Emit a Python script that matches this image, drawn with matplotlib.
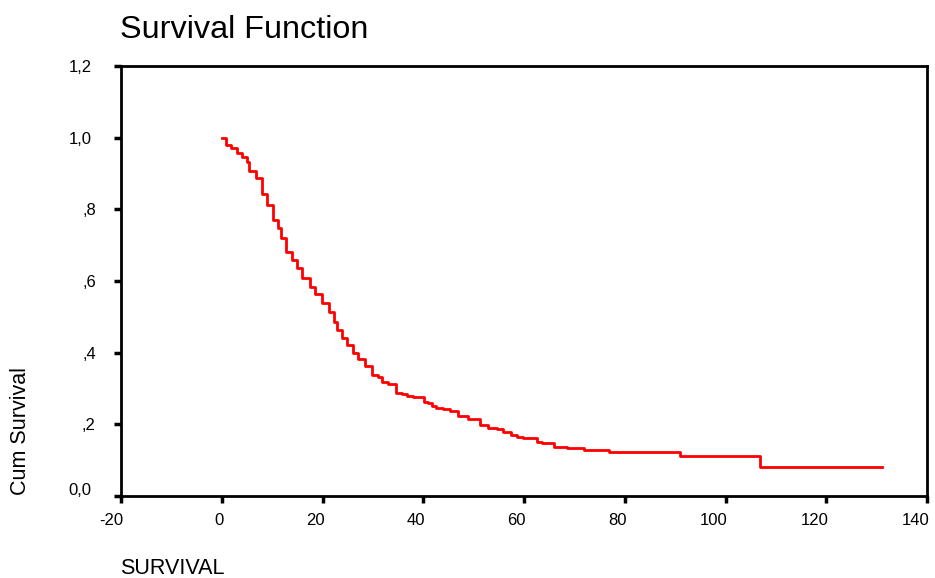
import matplotlib
matplotlib.use("Agg")
import matplotlib.pyplot as plt
from matplotlib.ticker import FixedLocator
from matplotlib.transforms import ScaledTranslation

plt.rcParams['font.family'] = ['Liberation Sans', 'DejaVu Sans']

# Kaplan-Meier step curve (time, cumulative survival after each drop)
times = [0, 0.9, 1.8, 3.0, 4.0, 5.0, 5.5, 6.7, 7.9, 9.0, 10.2, 11.2, 11.8, 12.7,
         13.9, 14.9, 16.0, 17.6, 18.6, 19.9, 21.2, 22.2, 22.8, 23.8, 24.8, 26.1,
         27.1, 28.4, 29.8, 31.1, 31.9, 33.1, 34.6, 35.7, 36.8, 38.0, 40.2, 41.0,
         41.8, 42.6, 44.0, 45.4, 46.8, 48.9, 51.2, 52.9, 54.7, 55.8, 57.4, 58.7,
         59.8, 62.6, 63.6, 65.9, 68.6, 71.9, 76.8, 90.9, 106.9, 131.1]
survival = [1.0, 0.980, 0.970, 0.956, 0.945, 0.933, 0.908, 0.887, 0.842, 0.812,
            0.770, 0.749, 0.719, 0.682, 0.659, 0.636, 0.607, 0.584, 0.564, 0.540,
            0.514, 0.486, 0.463, 0.440, 0.421, 0.398, 0.382, 0.362, 0.338, 0.331,
            0.319, 0.313, 0.288, 0.284, 0.279, 0.275, 0.263, 0.259, 0.252, 0.246,
            0.242, 0.237, 0.223, 0.215, 0.197, 0.191, 0.186, 0.179, 0.170, 0.164,
            0.161, 0.152, 0.147, 0.138, 0.135, 0.128, 0.124, 0.112, 0.080, 0.080]

x_ticks = [-20, 0, 20, 40, 60, 80, 100, 120, 140]
x_tick_labels = ['-20', '0', '20', '40', '60', '80', '100', '120', '140']
y_ticks = [0.0, 0.2, 0.4, 0.6, 0.8, 1.0, 1.2]
y_tick_labels = ['0,0', ',2', ',4', ',6', ',8', '1,0', '1,2']

fig = plt.figure(figsize=(9.35, 5.78), dpi=100)
ax = fig.add_axes([121/935, 1-496/578, (927-121)/935, (496-66)/578])

ax.plot(times, survival, drawstyle='steps-post', color='#ff0000', lw=2.0)

ax.set_xlim(-20, 140)
ax.set_ylim(0, 1.2)
ax.xaxis.set_major_locator(FixedLocator(x_ticks))
ax.set_xticklabels(x_tick_labels)
ax.yaxis.set_major_locator(FixedLocator(y_ticks))
ax.set_yticklabels(y_tick_labels)

for s in ax.spines.values():
    s.set_linewidth(2.0)
    s.set_color('black')
ax.tick_params(axis='both', direction='out', length=5, width=2.5, labelsize=12,
               colors='black')
ax.tick_params(axis='y', pad=16)
ax.tick_params(axis='x', pad=7)

# x labels sit right-aligned at their ticks in the reference
for lab in ax.get_xticklabels():
    lab.set_horizontalalignment('right')
    lab.set_transform(lab.get_transform() + ScaledTranslation(2/100, 0, fig.dpi_scale_trans))
# y label fine offsets
for lab in ax.get_yticklabels():
    txt = lab.get_text()
    dx, dy = 0, 0
    if txt.startswith(','):
        dx = 4
    if txt == '0,0':
        dy = 7
    lab.set_transform(lab.get_transform() + ScaledTranslation(dx/100, dy/100, fig.dpi_scale_trans))

fig.text(120/935, 1-30/578, 'Survival Function', fontsize=23.3, ha='left', va='center')
fig.text(120/935, 1-569/578, 'SURVIVAL', fontsize=15.5, ha='left', va='center')
fig.text(21/935, 1-431/578, 'Cum Survival', fontsize=15.5, ha='center', va='center',
         rotation=90)

fig.savefig('out.png', dpi=100, facecolor='white')
